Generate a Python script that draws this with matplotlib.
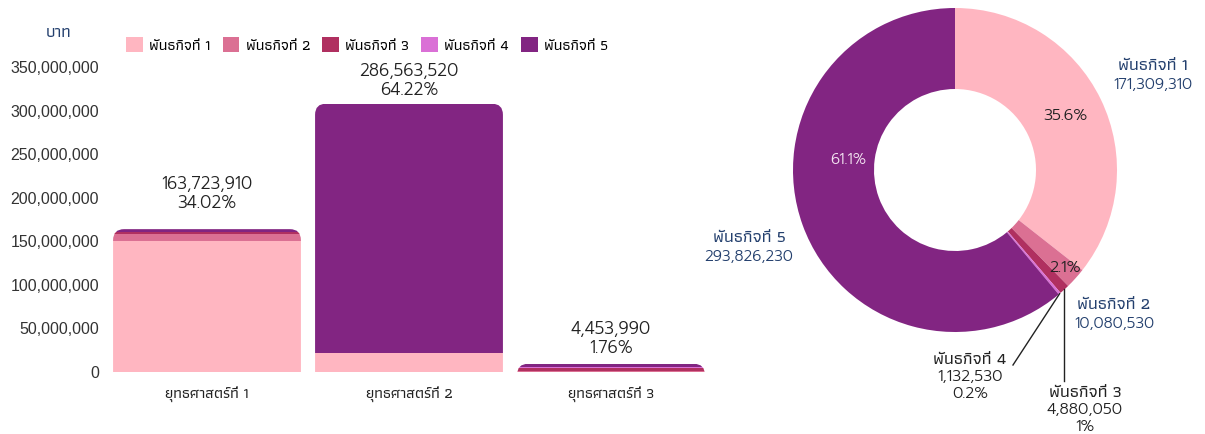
import matplotlib
matplotlib.use("Agg")
import matplotlib.pyplot as plt
import numpy as np
from matplotlib.patches import FancyBboxPatch, Patch
from matplotlib.ticker import FuncFormatter

THAI = ["Athiti", "Kanit", "Noto Sans Thai", "DejaVu Sans"]
NUM = ["Prompt", "Kanit", "DejaVu Sans"]
plt.rcParams["font.family"] = THAI
plt.rcParams["font.weight"] = 500

# data
missions = ["พันธกิจที่ 1", "พันธกิจที่ 2", "พันธกิจที่ 3", "พันธกิจที่ 4", "พันธกิจที่ 5"]
colors = ["#FFB6C1", "#DB7093", "#B03060", "#DA70D6", "#822582"]
strategies = ["ยุทธศาสตร์ที่ 1", "ยุทธศาสตร์ที่ 2", "ยุทธศาสตร์ที่ 3"]

# stacked values per mission, one entry per strategy
m1 = [149_900_000, 21_400_000, 0]
m2 = [9_000_000, 0, 1_080_000]
m3 = [1_400_000, 0, 3_480_000]
m4 = [330_000, 0, 800_000]
m5 = [3_300_000, 286_500_000, 4_030_000]
stack = [m1, m2, m3, m4, m5]

bar_value_lbl = [163_723_910, 286_563_520, 4_453_990]
bar_pct_lbl = [34.02, 64.22, 1.76]

mission_totals = [171_309_310, 10_080_530, 4_880_050, 1_132_530, 293_826_230]

NAVY = "#24406e"
DARK = "#222222"

W, H = 1205, 434
fig = plt.figure(figsize=(W / 100, H / 100), dpi=100)


def ftext(xp, yp, s, **kw):
    # text placed in figure pixels (origin top-left)
    return fig.text(xp / W, 1 - yp / H, s, ha="center", va="center", **kw)


# ---- stacked bars ----
ax_box = [106, 62, 606, 305]  # px: left, bottom, width, height
ax = fig.add_axes([ax_box[0] / W, ax_box[1] / H, ax_box[2] / W, ax_box[3] / H])
x = np.arange(len(strategies))
width = 0.93
bottom = np.zeros(len(strategies))
bars = []
for vals, c, name in zip(stack, colors, missions):
    b = ax.bar(x, vals, width, bottom=bottom, color=c, label=name, linewidth=0)
    bars.append(b)
    bottom += np.array(vals)

ax.set_xlim(-0.5, 2.5)
ax.set_ylim(0, 350_000_000)

# rounded tops: clip every stack with a round box
yu_per_px = 350_000_000 / ax_box[3]
xu_per_px = 3 / ax_box[2]
aspect = yu_per_px / xu_per_px
for i, tot in enumerate(bottom):
    clip = FancyBboxPatch((x[i] - width / 2, -60_000_000), width, tot + 60_000_000,
                          boxstyle="round,pad=0,rounding_size=%f" % (11 * xu_per_px),
                          mutation_aspect=aspect, transform=ax.transData,
                          facecolor="none", edgecolor="none")
    for b in bars:
        b[i].set_clip_path(clip)

# labels above bars (value line + percent line)
gaps = [26, 13, 16]
for i, (v, p) in enumerate(zip(bar_value_lbl, bar_pct_lbl)):
    for s, off in ((f"{v:,}", gaps[i] + 19), (f"{p:.2f}%", gaps[i])):
        ax.annotate(s, (x[i], bottom[i]), xytext=(0, off), textcoords="offset pixels",
                    ha="center", va="center", fontsize=12.3, family=NUM, fontweight=300,
                    color=DARK, annotation_clip=False)

ax.set_yticks(np.arange(0, 350_000_001, 50_000_000))
ax.yaxis.set_major_formatter(FuncFormatter(lambda v, _: f"{int(v):,}"))
for t in ax.get_yticklabels():
    t.set_fontfamily(["Liberation Sans", "DejaVu Sans"])
    t.set_fontweight("normal")
    t.set_fontsize(11.5)
    t.set_color("#333333")
ax.set_xticks(x)
ax.set_xticklabels(strategies, fontsize=11, color=DARK)
ax.tick_params(axis="both", length=0)
ax.tick_params(axis="y", pad=5)
ax.tick_params(axis="x", pad=11)
for s in ax.spines.values():
    s.set_visible(False)

ftext(59, 33, "บาท", fontsize=12, color=NAVY)

handles = [Patch(facecolor=c, edgecolor="none") for c in colors]
fig.legend(handles, missions, loc="center", bbox_to_anchor=(367 / W, 1 - 45 / H),
           ncol=5, frameon=False, handlelength=1.1, handleheight=1.1,
           handletextpad=0.4, columnspacing=0.8, prop={"size": 11, "weight": 500})

# ---- donut ----
cx, cy, R = 955, 170, 162
side = R * 2.2
ax2 = fig.add_axes([(cx - side / 2) / W, (H - cy - side / 2) / H, side / W, side / H])
wedges, _ = ax2.pie(mission_totals, colors=colors, startangle=90, counterclock=False,
                    radius=1, wedgeprops=dict(width=0.5, linewidth=0))
ax2.set_xlim(-1.1, 1.1)
ax2.set_ylim(-1.1, 1.1)

total = sum(mission_totals)
pcts = [v / total * 100 for v in mission_totals]


def pct_txt(p):
    s = f"{p:.1f}"
    return (s[:-2] if s.endswith(".0") else s) + "%"


def mid(w):
    return np.deg2rad((w.theta1 + w.theta2) / 2)


def px(xp, yp):
    return (xp - cx) / R, (cy - yp) / R


# inner percentages
a = mid(wedges[0])
ax2.text(0.76 * np.cos(a), 0.76 * np.sin(a), pct_txt(pcts[0]), ha="center", va="center",
         fontsize=11.5, family=NUM, fontweight=300, color=DARK)
a = mid(wedges[1])
ax2.text(0.91 * np.cos(a), 0.91 * np.sin(a), pct_txt(pcts[1]), ha="center", va="center",
         fontsize=11.5, family=NUM, fontweight=300, color=DARK)
ax2.text(*px(848, 160), pct_txt(pcts[4]), ha="center", va="center",
         fontsize=11, family=NUM, fontweight=300, color="#f3e3f1")

# outer labels: name line, then value line 19 px lower
outer = {0: (1153, 66), 4: (749, 238), 1: (1114, 305)}
for k, (xp, yp) in outer.items():
    ftext(xp, yp, missions[k], fontsize=12.5, color=NAVY)
    ftext(xp, yp + 19, f"{mission_totals[k]:,}", fontsize=11, family=NUM,
          fontweight=300, color=NAVY)

# leader-line labels
a3 = mid(wedges[2])
sx, sy = np.cos(a3), np.sin(a3)
ax2.plot([sx, sx], [sy, px(0, 381)[1]], color=DARK, lw=1, clip_on=False)
a4 = mid(wedges[3])
sx, sy = np.cos(a4), np.sin(a4)
ex, ey = px(1013, 365)
ax2.plot([sx, ex], [sy, ey], color=DARK, lw=1, clip_on=False)

for k, (xp, yp) in {2: (1085, 393), 3: (970, 360)}.items():
    ftext(xp, yp, missions[k], fontsize=12.5, color=DARK)
    ftext(xp, yp + 17, f"{mission_totals[k]:,}", fontsize=11.3, family=NUM,
          fontweight=300, color=DARK)
    ftext(xp, yp + 34, pct_txt(pcts[k]), fontsize=11.3, family=NUM,
          fontweight=300, color=DARK)

fig.savefig("out.png", dpi=100)
